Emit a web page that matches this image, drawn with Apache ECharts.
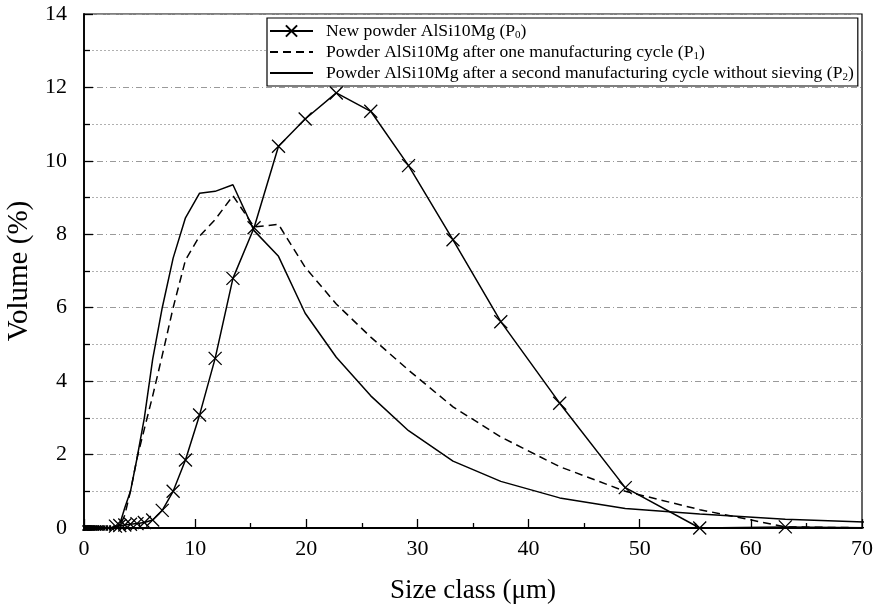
<!DOCTYPE html>
<html>
<head>
<meta charset="utf-8">
<script src="https://cdn.jsdelivr.net/npm/echarts@6/dist/echarts.min.js"></script>
<style>
html,body{margin:0;padding:0;background:#fff;}
#chart{width:884px;height:606px;}
</style>
</head>
<body>
<div id="chart"></div>
<script>
// Size classes (µm)
var sizeClass = [0.10,0.115,0.13,0.15,0.17,0.19,0.22,0.25,0.28,0.32,0.36,0.41,0.47,0.53,0.60,0.68,0.78,0.89,1.01,1.15,1.31,1.49,1.70,1.93,2.20,2.50,
  2.83,3.22,3.67,4.18,4.77,5.43,6.18,7.04,8.02,9.13,10.4,11.8,13.4,15.3,17.5,19.9,22.7,25.8,29.2,33.2,37.5,42.8,48.7,55.4,63.1,71.8];
var zeros = [0,0,0,0,0,0,0,0,0,0,0,0,0,0,0,0,0,0,0,0,0,0,0,0,0,0];
// Volume (%) — New powder (P0)
var volP0 = zeros.concat([0.05,0.07,0.08,0.10,0.12,0.15,0.22,0.48,1.00,1.85,3.08,4.62,6.80,8.18,10.40,11.14,11.85,11.35,9.87,7.85,5.62,3.40,1.10,0.00,0.03,0.00]);
// Volume (%) — after one manufacturing cycle (P1)
var volP1 = zeros.concat([0.00,0.05,0.35,1.00,1.90,2.70,3.60,4.70,6.00,7.30,7.95,8.40,9.05,8.20,8.27,7.10,6.10,5.20,4.30,3.30,2.48,1.67,1.00,0.50,0.03,0.00]);
// Volume (%) — after a second manufacturing cycle without sieving (P2)
var volP2 = zeros.concat([0.00,0.10,0.55,1.00,1.90,3.00,4.60,6.00,7.35,8.45,9.12,9.17,9.35,8.10,7.40,5.85,4.65,3.60,2.65,1.82,1.27,0.82,0.53,0.38,0.24,0.15]);

var seriesNames = [
  'New powder AlSi10Mg (P{s|0})',
  'Powder AlSi10Mg after one manufacturing cycle (P{s|1})',
  'Powder AlSi10Mg after a second manufacturing cycle without sieving (P{s|2})'
];
var xTicks = [0,10,20,30,40,50,60,70];
var yTicks = [0,2,4,6,8,10,12,14];

function pairs(ys){ return sizeClass.map(function(x,i){ return [x, ys[i]]; }); }

var FONT = 'Liberation Serif';
var cross = 'path://M0,0L10,10M0,10L10,0';
var hiddenSym = {color:'rgba(0,0,0,0)',borderColor:'rgba(0,0,0,0)',borderWidth:0};

var chart = echarts.init(document.getElementById('chart'), null, {renderer:'canvas'});
chart.setOption({
  animation:false,
  backgroundColor:'#fff',
  textStyle:{fontFamily:FONT,color:'#000'},
  grid:{left:84,right:22,top:14,bottom:78,containLabel:false,outerBoundsMode:'none',
        show:true,borderColor:'#000',borderWidth:1.2},
  legend:{
    orient:'vertical',
    left:267, top:18,
    itemWidth:43, itemHeight:14, itemGap:1,
    padding:[3,4,3,2],
    borderColor:'#000', borderWidth:1.2,
    backgroundColor:'#fff',
    data:[
      {name:seriesNames[0]},
      {name:seriesNames[1], itemStyle:hiddenSym},
      {name:seriesNames[2], itemStyle:hiddenSym}
    ],
    textStyle:{fontFamily:FONT,fontSize:17.6,lineHeight:20,color:'#000',padding:[0,0,0,8],
      rich:{s:{fontFamily:FONT,fontSize:11,lineHeight:20,padding:[9,0,0,0],color:'#000'}}}
  },
  xAxis:{
    type:'value', min:xTicks[0], max:xTicks[xTicks.length-1], interval:10,
    axisLine:{show:true,onZero:false,lineStyle:{color:'#000',width:1.8}},
    axisTick:{show:true,inside:true,length:9,lineStyle:{color:'#000',width:1.3}},
    minorTick:{show:true,splitNumber:2,length:5,lineStyle:{color:'#000',width:1.3}},
    splitLine:{show:false},
    axisLabel:{fontFamily:FONT,fontSize:22,color:'#000',margin:10},
    name:'Size class (\u03bcm)', nameLocation:'middle', nameGap:49,
    nameTextStyle:{fontFamily:FONT,fontSize:27,color:'#000'}
  },
  yAxis:{
    type:'value', min:yTicks[0], max:yTicks[yTicks.length-1], interval:2,
    axisLine:{show:true,onZero:false,lineStyle:{color:'#000',width:1.8}},
    axisTick:{show:true,inside:true,length:9,lineStyle:{color:'#000',width:1.3}},
    minorTick:{show:true,splitNumber:2,length:6,lineStyle:{color:'#000',width:1.3}},
    splitLine:{show:true,lineStyle:{color:'#9a9a9a',width:1,type:[6,3,1,3]}},
    minorSplitLine:{show:true,lineStyle:{color:'#b0b0b0',width:1,type:[2,2]}},
    axisLabel:{fontFamily:FONT,fontSize:22,color:'#000',margin:17},
    name:'Volume (%)', nameLocation:'middle', nameGap:46, nameRotate:90,
    nameTextStyle:{fontFamily:FONT,fontSize:29,color:'#000'}
  },
  series:[
    {name:seriesNames[0], type:'line', data:pairs(volP0),
     symbol:cross,
     symbolSize:function(v){ return v[0] < 2.6 ? 5 : 13; },
     itemStyle:{color:'#000',borderColor:'#000',borderWidth:1.3},
     lineStyle:{color:'#000',width:1.5}, z:3},
    {name:seriesNames[1], type:'line', data:pairs(volP1), symbol:'none',
     itemStyle:{color:'#000'},
     lineStyle:{color:'#000',width:1.5,type:[8,5]}, z:2},
    {name:seriesNames[2], type:'line', data:pairs(volP2), symbol:'none',
     itemStyle:{color:'#000'},
     lineStyle:{color:'#000',width:1.5}, z:2}
  ]
});
</script>
</body>
</html>
